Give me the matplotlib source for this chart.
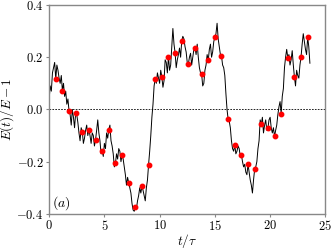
import numpy as np
import matplotlib
matplotlib.use("Agg")
import matplotlib.pyplot as plt

plt.rcParams["mathtext.fontset"] = "cm"
plt.rcParams["font.family"] = "serif"
plt.rcParams["font.serif"] = ["DejaVu Serif"]

# energy trace, sampled every 0.1 tau (t = 0.0 ... 23.6)
trace_dt = 0.1
trace_e = [
    0.04, 0.09, 0.07, 0.14, 0.16, 0.18, 0.117, 0.17, 0.15, 0.12,
    0.10, 0.13, 0.072, 0.10, 0.05, 0.07, 0.02, 0.04, -0.005, -0.02,
    -0.06, 0.0, -0.03, -0.07, -0.015, -0.02, -0.05, -0.09, -0.12, -0.07,
    -0.085, -0.13, -0.11, -0.08, -0.06, -0.10, -0.077, -0.10, -0.13, -0.09,
    -0.10, -0.14, -0.116, -0.08, -0.04, -0.09, -0.12, -0.17, -0.158, -0.18,
    -0.13, -0.15, -0.09, -0.11, -0.077, -0.06, -0.12, -0.14, -0.17, -0.22,
    -0.207, -0.17, -0.19, -0.15, -0.16, -0.20, -0.175, -0.19, -0.22, -0.25,
    -0.29, -0.26, -0.28, -0.30, -0.32, -0.36, -0.385, -0.39, -0.374, -0.38,
    -0.35, -0.33, -0.30, -0.32, -0.294, -0.31, -0.33, -0.35, -0.30, -0.27,
    -0.211, -0.16, -0.10, -0.03, 0.02, 0.09, 0.117, 0.10, 0.14, 0.12,
    0.10, 0.15, 0.125, 0.085, 0.11, 0.19, 0.18, 0.14, 0.202, 0.15,
    0.17, 0.24, 0.31, 0.25, 0.217, 0.16, 0.19, 0.21, 0.235, 0.20,
    0.262, 0.28, 0.27, 0.24, 0.22, 0.18, 0.175, 0.20, 0.215, 0.17,
    0.20, 0.23, 0.237, 0.21, 0.25, 0.20, 0.16, 0.14, 0.136, 0.09,
    0.10, 0.15, 0.17, 0.21, 0.188, 0.23, 0.25, 0.20, 0.22, 0.26,
    0.276, 0.29, 0.33, 0.27, 0.24, 0.21, 0.204, 0.17, 0.16, 0.13,
    0.06, 0.0, -0.037, -0.045, -0.07, -0.12, -0.15, -0.16, -0.136, -0.17,
    -0.16, -0.14, -0.15, -0.18, -0.173, -0.20, -0.22, -0.21, -0.24, -0.25,
    -0.21, -0.24, -0.27, -0.29, -0.32, -0.27, -0.229, -0.22, -0.20, -0.15,
    -0.12, -0.04, -0.057, -0.03, -0.09, -0.06, -0.04, -0.08, -0.073, -0.04,
    -0.03, -0.07, -0.09, -0.07, -0.103, -0.08, -0.06, -0.02, 0.01, 0.03,
    -0.016, 0.05, 0.08, 0.16, 0.20, 0.23, 0.198, 0.21, 0.17, 0.19,
    0.225, 0.17, 0.124, 0.09, 0.15, 0.13, 0.12, 0.17, 0.202, 0.25,
    0.29, 0.26, 0.23, 0.21, 0.277, 0.24, 0.177,
]
trace_t = np.arange(len(trace_e)) * trace_dt

# sampled points (red)
dot_t = [0.6, 1.2, 1.8, 2.4, 3.0, 3.6, 4.2, 4.8, 5.4, 6.0, 6.6, 7.2, 7.8,
         8.4, 9.0, 9.6, 10.2, 10.8, 11.4, 12.0, 12.6, 13.2, 13.8, 14.4,
         15.0, 15.6, 16.2, 16.8, 17.4, 18.0, 18.6, 19.2, 19.8, 20.4, 21.0,
         21.6, 22.2, 22.8, 23.4]
dot_e = [0.117, 0.072, -0.005, -0.015, -0.085, -0.077, -0.116, -0.158,
         -0.077, -0.207, -0.175, -0.28, -0.374, -0.294, -0.211, 0.117,
         0.125, 0.202, 0.217, 0.262, 0.175, 0.237, 0.136, 0.188, 0.276,
         0.204, -0.037, -0.136, -0.173, -0.21, -0.229, -0.057, -0.073,
         -0.103, -0.016, 0.198, 0.124, 0.202, 0.277]

xticks = [0, 5, 10, 15, 20, 25]
yticks = [-0.4, -0.2, 0.0, 0.2, 0.4]

fig = plt.figure(figsize=(3.32, 2.49), dpi=100)
ax = fig.add_axes([0.148, 0.141, 0.832, 0.839])

ax.axhline(0, color="black", lw=0.6, ls=(0, (2, 1.5)), zorder=1)
ax.plot(trace_t, trace_e, color="black", lw=0.7, zorder=2)
ax.plot(dot_t, dot_e, "o", color="red", ms=3.2, mec="red", zorder=3)

ax.set_xlim(0, 25)
ax.set_ylim(-0.4, 0.4)
ax.set_xticks(xticks)
ax.set_yticks(yticks)
ax.set_xticklabels([f"${v}$" for v in xticks], fontsize=9)
ax.set_yticklabels([f"${v:.1f}$" for v in yticks], fontsize=9)
ax.tick_params(direction="out", length=2, width=0.8, color="#888888", pad=2)
for s in ax.spines.values():
    s.set_color("#888888")
    s.set_linewidth(1.0)

ax.set_xlabel(r"$t/\tau$", fontsize=9.5)
ax.xaxis.set_label_coords(0.5, -0.088)
ax.set_ylabel(r"$E(t)/E-1$", fontsize=9.5, labelpad=0)
ax.text(0.012, 0.035, r"$(a)$", transform=ax.transAxes, fontsize=10)

fig.savefig("out.png", dpi=100)
